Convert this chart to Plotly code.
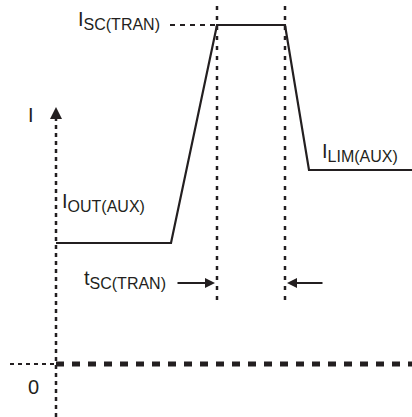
import plotly.graph_objects as go

# Waveform data (time units, current units)
t_wave = [0, 115, 161, 229, 253, 356]
i_wave = [121, 121, 339, 339, 194, 194]

# Marker times and levels
t_sc_start = 161
t_sc_end = 229
i_sc = 339
i_zero = 0

SUB = "<sub><span style='font-size:16px'>{}</span></sub>"
labels = {
    "axis": "I",
    "zero": "0",
    "isc": "I" + SUB.format("SC(TRAN)"),
    "iout": "I" + SUB.format("OUT(AUX)"),
    "ilim": "I" + SUB.format("LIM(AUX)"),
    "tsc": "t" + SUB.format("SC(TRAN)"),
}

FONT = "Liberation Sans, Arial, Helvetica, sans-serif"
BLK = "#231f20"

fig = go.Figure()

# y axis (dotted)
fig.add_trace(go.Scatter(x=[0, 0], y=[-53, 250], mode="lines",
                         line=dict(color=BLK, width=2.5, dash="4px,4px"), hoverinfo="skip"))
# zero line left thin part
fig.add_trace(go.Scatter(x=[-46, 0], y=[i_zero, i_zero], mode="lines",
                         line=dict(color=BLK, width=2, dash="4px,4px"), hoverinfo="skip"))
# zero line thick dashes
fig.add_trace(go.Scatter(x=[0, 356], y=[i_zero, i_zero], mode="lines",
                         line=dict(color=BLK, width=5, dash="8px,8px"), hoverinfo="skip"))
# vertical dotted markers
for tv in (t_sc_start, t_sc_end):
    fig.add_trace(go.Scatter(x=[tv, tv], y=[64, 364], mode="lines",
                             line=dict(color=BLK, width=2.5, dash="4px,6px"), hoverinfo="skip"))
# ISC dashed leader
fig.add_trace(go.Scatter(x=[114, t_sc_start], y=[i_sc, i_sc], mode="lines",
                         line=dict(color=BLK, width=2, dash="5px,5px"), hoverinfo="skip"))
# waveform
fig.add_trace(go.Scatter(x=t_wave, y=i_wave, mode="lines",
                         line=dict(color=BLK, width=2.2), hoverinfo="skip"))

ann = []
# axis arrowhead
ann.append(dict(x=0, y=257, ax=0, ay=245, xref="x", yref="y", axref="x", ayref="y",
                showarrow=True, arrowhead=2, arrowsize=1.2, arrowwidth=2, arrowcolor=BLK, text=""))
# tsc arrows
ann.append(dict(x=t_sc_start - 2, y=81, ax=120, ay=81, xref="x", yref="y", axref="x", ayref="y",
                showarrow=True, arrowhead=2, arrowsize=1, arrowwidth=2, arrowcolor=BLK, text=""))
ann.append(dict(x=t_sc_end + 2, y=81, ax=268, ay=81, xref="x", yref="y", axref="x", ayref="y",
                showarrow=True, arrowhead=2, arrowsize=1, arrowwidth=2, arrowcolor=BLK, text=""))

def txt(x, y, s, xa="center", size=20):
    ann.append(dict(x=x, y=y, xref="x", yref="y", text=s, showarrow=False,
                    xanchor=xa, yanchor="middle", font=dict(family=FONT, size=size, color=BLK)))

txt(-25, 249, labels["axis"])
txt(-23, -23, labels["zero"])
txt(106, 344, labels["isc"], xa="right")
txt(4, 162, labels["iout"], xa="left")
txt(264, 212, labels["ilim"], xa="left")
txt(112, 85, labels["tsc"], xa="right")

fig.update_layout(
    width=412, height=417,
    margin=dict(l=0, r=0, t=0, b=0),
    paper_bgcolor="white", plot_bgcolor="white",
    showlegend=False,
    xaxis=dict(range=[-56, 356], visible=False, fixedrange=True),
    yaxis=dict(range=[-53, 364], visible=False, fixedrange=True),
    annotations=ann,
)

fig.write_html("out.html", config={"displayModeBar": False},
               post_script="document.body.style.margin='0';document.body.style.overflow='hidden';")
